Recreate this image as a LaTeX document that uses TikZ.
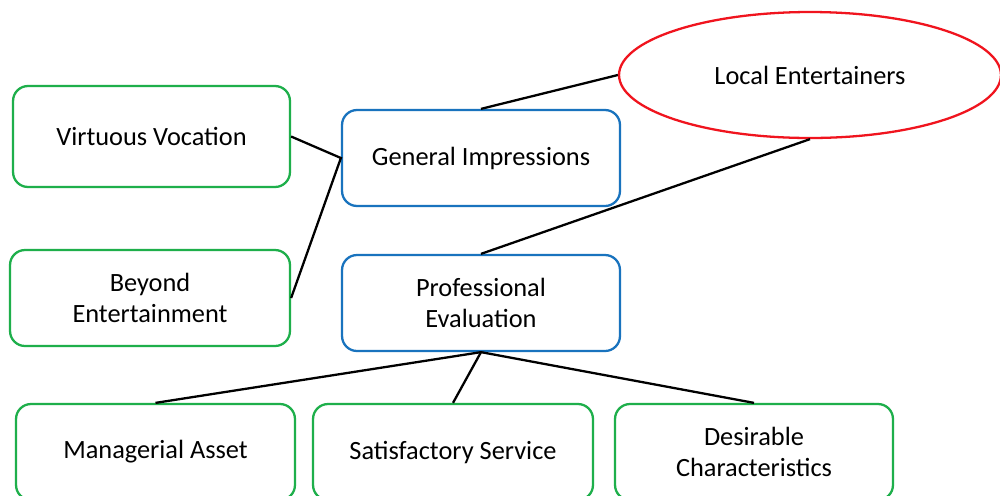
\documentclass[tikz,border=0pt]{standalone}
\usepackage{fontspec}
\setmainfont{Carlito}
\usetikzlibrary{shapes.geometric}
\definecolor{boxgreen}{RGB}{30,175,75}
\definecolor{boxblue}{RGB}{25,115,190}
\definecolor{ellred}{RGB}{240,20,30}
\tikzset{
  base/.style={rounded corners=0.3cm, line width=1.3pt, align=center, inner sep=2pt,
    font=\fontsize{15}{17.8}\selectfont, text=black},
  gbox/.style={base, draw=boxgreen},
  bbox/.style={base, draw=boxblue},
  rell/.style={ellipse, draw=ellred, line width=1.3pt, inner sep=0pt,
    font=\fontsize{15}{17.8}\selectfont, text=black},
  link/.style={line width=1.3pt, black}
}
\begin{document}
\begin{tikzpicture}[x=0.02cm, y=-0.02cm]
\clip (0,0) rectangle (1000,495);
\fill[white] (0,0) rectangle (1000,495);
\node[gbox, minimum width=5.54cm, minimum height=2.02cm] (VV) at (151.5,136.5) {Virtuous Vocation};
\node[gbox, minimum width=5.6cm, minimum height=1.92cm] (BE) at (150,298) {Beyond\\Entertainment};
\node[bbox, minimum width=5.56cm, minimum height=1.92cm] (GI) at (481,158) {General Impressions};
\node[bbox, minimum width=5.56cm, minimum height=1.92cm] (PE) at (481,303) {Professional\\Evaluation};
\node[rell, minimum width=7.64cm, minimum height=2.52cm] (LE) at (810,75) {Local Entertainers};
\node[gbox, minimum width=5.58cm, minimum height=1.92cm] (MA) at (155.5,452) {Managerial Asset};
\node[gbox, minimum width=5.6cm, minimum height=1.92cm] (SS) at (453,452) {Satisfactory Service};
\node[gbox, minimum width=5.56cm, minimum height=1.92cm] (DC) at (754,452) {Desirable\\Characteristics};
\draw[link] (VV.east) -- (GI.west) -- (BE.east);
\draw[link] (GI.north) -- (LE.west);
\draw[link] (LE.south) -- (PE.north);
\draw[link] (PE.south) -- (MA.north);
\draw[link] (PE.south) -- (SS.north);
\draw[link] (PE.south) -- (DC.north);
\end{tikzpicture}
\end{document}
